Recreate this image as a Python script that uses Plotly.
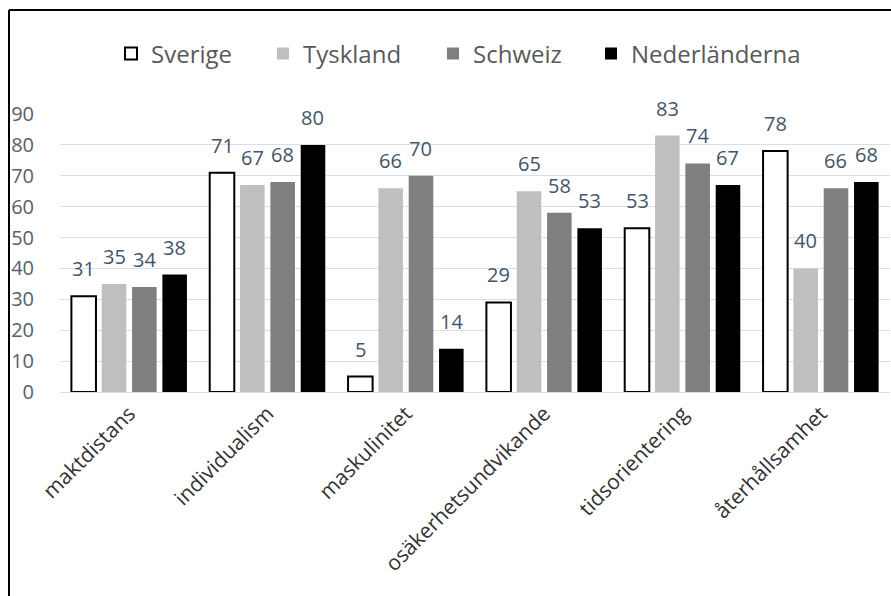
import plotly.graph_objects as go

categories = ["maktdistans", "individualism", "maskulinitet",
              "osäkerhetsundvikande", "tidsorientering", "återhållsamhet"]
sverige = [31, 71, 5, 29, 53, 78]
tyskland = [35, 67, 66, 65, 83, 40]
schweiz = [34, 68, 70, 58, 74, 66]
nederlanderna = [38, 80, 14, 53, 67, 68]
series_names = ["Sverige", "Tyskland", "Schweiz", "Nederländerna"]
y_ticks = [0, 10, 20, 30, 40, 50, 60, 70, 80, 90]

W, H = 891, 596
L, R, T, B = 60, 1, 114, 596 - 392
PW, PH = W - L - R, H - T - B
BARGAP, GROUPGAP = 0.123, 0.19


def sx(px):  # screen px -> paper x
    return (px - L) / PW


def sy(py):  # screen px -> paper y
    return (H - B - py) / PH


FONT = "Open Sans"
LABEL_COLOR = "#44546A"
TICK_COLOR = "#56606E"

series = [
    (series_names[0], sverige, "#FFFFFF", "#000000", 2),
    (series_names[1], tyskland, "#BFBFBF", "#BFBFBF", 0),
    (series_names[2], schweiz, "#7F7F7F", "#7F7F7F", 0),
    (series_names[3], nederlanderna, "#000000", "#000000", 0),
]
legend_ids = ["legend", "legend2", "legend3", "legend4"]
legend_box_left = [128, 280, 450, 608]

fig = go.Figure()
n = len(series)
slot_px = PW / len(categories) * (1 - BARGAP) / n
annotations = []
for i, (name, vals, fill, line, lw) in enumerate(series):
    fig.add_trace(go.Bar(
        name=name, x=categories, y=vals,
        marker=dict(color=fill, line=dict(color=line, width=lw)),
        legend=legend_ids[i], hoverinfo="skip",
    ))
    for c, v in zip(categories, vals):
        annotations.append(dict(
            x=c, y=v, xref="x", yref="y", text=str(v), showarrow=False,
            xanchor="center", yanchor="bottom",
            xshift=(i - (n - 1) / 2) * slot_px, yshift=12,
            font=dict(family=FONT, size=20, color=LABEL_COLOR),
        ))

legend_common = dict(
    orientation="h", xanchor="left", yanchor="middle",
    font=dict(family=FONT, size=24, color="#595959"),
    bgcolor="rgba(0,0,0,0)", itemwidth=30,
)
layout_legends = {}
for lid, bx in zip(legend_ids, legend_box_left):
    layout_legends[lid] = dict(legend_common, x=sx(bx - 17), y=sy(54))

fig.update_layout(
    width=W, height=H,
    margin=dict(l=L, r=R, t=T, b=B),
    paper_bgcolor="white", plot_bgcolor="white",
    barmode="group", bargap=BARGAP, bargroupgap=GROUPGAP,
    font=dict(family=FONT, color="#595959"),
    showlegend=True,
    xaxis=dict(
        tickangle=-45, tickfont=dict(family=FONT, size=21, color="#333333"),
        showline=True, linecolor="#D9DEE8", linewidth=1,
        showgrid=False, ticks="",
    ),
    yaxis=dict(
        range=[0, 90], tickvals=y_ticks,
        tickfont=dict(family=FONT, size=20, color=TICK_COLOR),
        showgrid=True, gridcolor="#D9DEE8", gridwidth=1,
        zeroline=False, showline=False, ticks="",
        ticklabelstandoff=25,
    ),
    annotations=annotations,
    shapes=[
        dict(type="line", xref="paper", yref="paper",
             x0=sx(9), x1=sx(9), y0=sy(10), y1=sy(600),
             line=dict(color="#000000", width=2)),
        dict(type="line", xref="paper", yref="paper",
             x0=sx(9), x1=sx(891), y0=sy(10), y1=sy(10),
             line=dict(color="#000000", width=2)),
    ],
    **layout_legends,
)

fig.write_html(
    "out.html",
    config={"displayModeBar": False, "staticPlot": True},
    post_script="document.body.style.margin='0';document.body.style.overflow='hidden';",
)
